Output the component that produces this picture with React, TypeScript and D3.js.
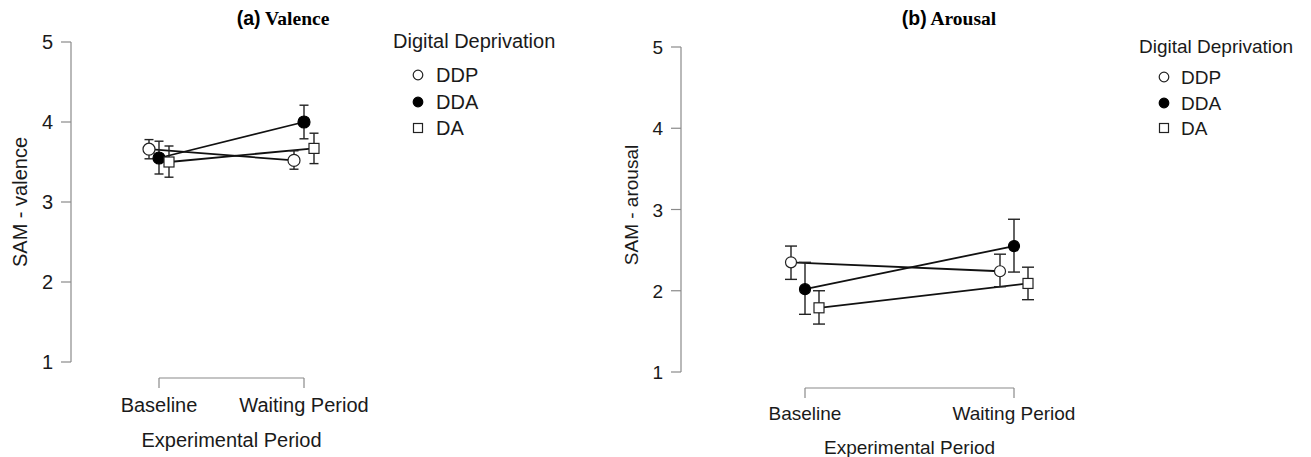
import React from "react";
import * as d3 from "d3";

const periods = ["Baseline", "Waiting Period"];
const groups = ["DDP", "DDA", "DA"];
const yTicks = [1, 2, 3, 4, 5];

// per group: [Baseline, Waiting Period]
const valenceMean = [[3.66, 3.52], [3.55, 4.0], [3.5, 3.67]];
const valenceLower = [[3.54, 3.41], [3.35, 3.79], [3.31, 3.48]];
const valenceUpper = [[3.78, 3.64], [3.76, 4.21], [3.7, 3.86]];

const arousalMean = [[2.35, 2.24], [2.02, 2.55], [1.79, 2.09]];
const arousalLower = [[2.14, 2.05], [1.71, 2.23], [1.59, 1.89]];
const arousalUpper = [[2.55, 2.45], [2.35, 2.88], [2.0, 2.29]];

type PanelCfg = {
  titleTag: string;
  titleWord: string;
  titleX: number;
  yLabel: string;
  mean: number[][];
  lower: number[][];
  upper: number[][];
  axisX: number;
  yTop: number;
  yBottom: number;
  xLeft: number;
  xRight: number;
  dodge: number;
  bracketY: number;
  tickLabelY: number;
  xTitleY: number;
  yLabelX: number;
  yLabelY: number;
  font: number;
  capW: number;
  r: number;
  sq: number;
  legendX: number;
  legendTitleY: number;
  legendRowsY: number[];
  legendSymX: number;
  legendTextX: number;
};

const AXIS = "#8a8a8a";
const TXT = "#1a1a1a";
const SANS = "Liberation Sans, Arial, sans-serif";

function Marker({ g, x, y, r, sq }: { g: number; x: number; y: number; r: number; sq: number }) {
  if (g === 0) return <circle cx={x} cy={y} r={r} fill="#fff" stroke="#222" strokeWidth={1.2} />;
  if (g === 1) return <circle cx={x} cy={y} r={r} fill="#000" stroke="#000" strokeWidth={1.2} />;
  return <rect x={x - sq / 2} y={y - sq / 2} width={sq} height={sq} fill="#fff" stroke="#222" strokeWidth={1.2} />;
}

function Panel({ c }: { c: PanelCfg }) {
  const y = d3.scaleLinear().domain([1, 5]).range([c.yBottom, c.yTop]);
  const x = d3.scalePoint<string>().domain(periods).range([c.xLeft, c.xRight]);
  const off = (g: number) => (g - 1) * c.dodge;
  const line = d3
    .line<[number, number]>()
    .x((d) => d[0])
    .y((d) => d[1]);

  return (
    <g>
      {/* title */}
      <text x={c.titleX} y={25} textAnchor="middle" fontSize={19.5} fontWeight="bold" fill="#000">
        <tspan fontFamily={SANS}>{c.titleTag}</tspan>
        <tspan fontFamily="Liberation Serif, Times New Roman, serif"> {c.titleWord}</tspan>
      </text>
      {/* y axis */}
      <line x1={c.axisX} x2={c.axisX} y1={y(5)} y2={y(1)} stroke={AXIS} strokeWidth={1.2} />
      {yTicks.map((t) => (
        <g key={t}>
          <line x1={c.axisX - 10} x2={c.axisX} y1={y(t)} y2={y(t)} stroke={AXIS} strokeWidth={1.2} />
          <text x={c.axisX - 18} y={y(t) + 7} textAnchor="end" fontSize={c.font} fontFamily={SANS} fill={TXT}>
            {t}
          </text>
        </g>
      ))}
      <text
        transform={`translate(${c.yLabelX},${c.yLabelY}) rotate(-90)`}
        textAnchor="middle"
        fontSize={c.font}
        fontFamily={SANS}
        fill={TXT}
      >
        {c.yLabel}
      </text>
      {/* x bracket */}
      <line x1={x(periods[0])!} x2={x(periods[1])!} y1={c.bracketY} y2={c.bracketY} stroke={AXIS} strokeWidth={1.2} />
      {periods.map((p) => (
        <g key={p}>
          <line x1={x(p)!} x2={x(p)!} y1={c.bracketY} y2={c.bracketY + 10} stroke={AXIS} strokeWidth={1.2} />
          <text x={x(p)!} y={c.tickLabelY} textAnchor="middle" fontSize={c.font} fontFamily={SANS} fill={TXT}>
            {p}
          </text>
        </g>
      ))}
      <text
        x={(x(periods[0])! + x(periods[1])!) / 2}
        y={c.xTitleY}
        textAnchor="middle"
        fontSize={c.font}
        fontFamily={SANS}
        fill={TXT}
      >
        Experimental Period
      </text>
      {/* lines */}
      {groups.map((_, g) => (
        <path
          key={"l" + g}
          d={line(periods.map((p, i) => [x(p)! + off(g), y(c.mean[g][i])]))!}
          fill="none"
          stroke="#111"
          strokeWidth={1.8}
        />
      ))}
      {/* error bars */}
      {groups.map((_, g) =>
        periods.map((p, i) => {
          const px = x(p)! + off(g);
          return (
            <g key={"e" + g + i} stroke="#222" strokeWidth={1.4}>
              <line x1={px} x2={px} y1={y(c.upper[g][i])} y2={y(c.lower[g][i])} />
              <line x1={px - c.capW / 2} x2={px + c.capW / 2} y1={y(c.upper[g][i])} y2={y(c.upper[g][i])} />
              <line x1={px - c.capW / 2} x2={px + c.capW / 2} y1={y(c.lower[g][i])} y2={y(c.lower[g][i])} />
            </g>
          );
        })
      )}
      {/* markers */}
      {groups.map((_, g) =>
        periods.map((p, i) => (
          <Marker key={"m" + g + i} g={g} x={x(p)! + off(g)} y={y(c.mean[g][i])} r={c.r} sq={c.sq} />
        ))
      )}
      {/* legend */}
      <text x={c.legendX} y={c.legendTitleY} fontSize={c.font} fontFamily={SANS} fill={TXT}>
        Digital Deprivation
      </text>
      {groups.map((name, g) => (
        <g key={"lg" + g}>
          <Marker g={g} x={c.legendSymX} y={c.legendRowsY[g] - 7} r={4.8} sq={9} />
          <text x={c.legendTextX} y={c.legendRowsY[g]} fontSize={c.font} fontFamily={SANS} fill={TXT}>
            {name}
          </text>
        </g>
      ))}
    </g>
  );
}

const left: PanelCfg = {
  titleTag: "(a)",
  titleWord: "Valence",
  titleX: 283,
  yLabel: "SAM - valence",
  mean: valenceMean,
  lower: valenceLower,
  upper: valenceUpper,
  axisX: 71,
  yTop: 42,
  yBottom: 362,
  xLeft: 159,
  xRight: 304,
  dodge: 10,
  bracketY: 378,
  tickLabelY: 412,
  xTitleY: 447,
  yLabelX: 27,
  yLabelY: 202,
  font: 20,
  capW: 9,
  r: 6,
  sq: 10,
  legendX: 393,
  legendTitleY: 48,
  legendRowsY: [82, 109, 135],
  legendSymX: 418,
  legendTextX: 436,
};

const right: PanelCfg = {
  titleTag: "(b)",
  titleWord: "Arousal",
  titleX: 949,
  yLabel: "SAM - arousal",
  mean: arousalMean,
  lower: arousalLower,
  upper: arousalUpper,
  axisX: 681,
  yTop: 47,
  yBottom: 372,
  xLeft: 805,
  xRight: 1014,
  dodge: 14,
  bracketY: 388,
  tickLabelY: 420,
  xTitleY: 454,
  yLabelX: 638,
  yLabelY: 205,
  font: 19,
  capW: 12,
  r: 5.5,
  sq: 10,
  legendX: 1139,
  legendTitleY: 53,
  legendRowsY: [84, 110, 135],
  legendSymX: 1164,
  legendTextX: 1181,
};

export default function App() {
  return (
    <svg
      width={1311}
      height={457}
      style={{ position: "absolute", left: 0, top: 0, background: "#fff" }}
    >
      <rect width={1311} height={457} fill="#fff" />
      <Panel c={left} />
      <Panel c={right} />
    </svg>
  );
}
